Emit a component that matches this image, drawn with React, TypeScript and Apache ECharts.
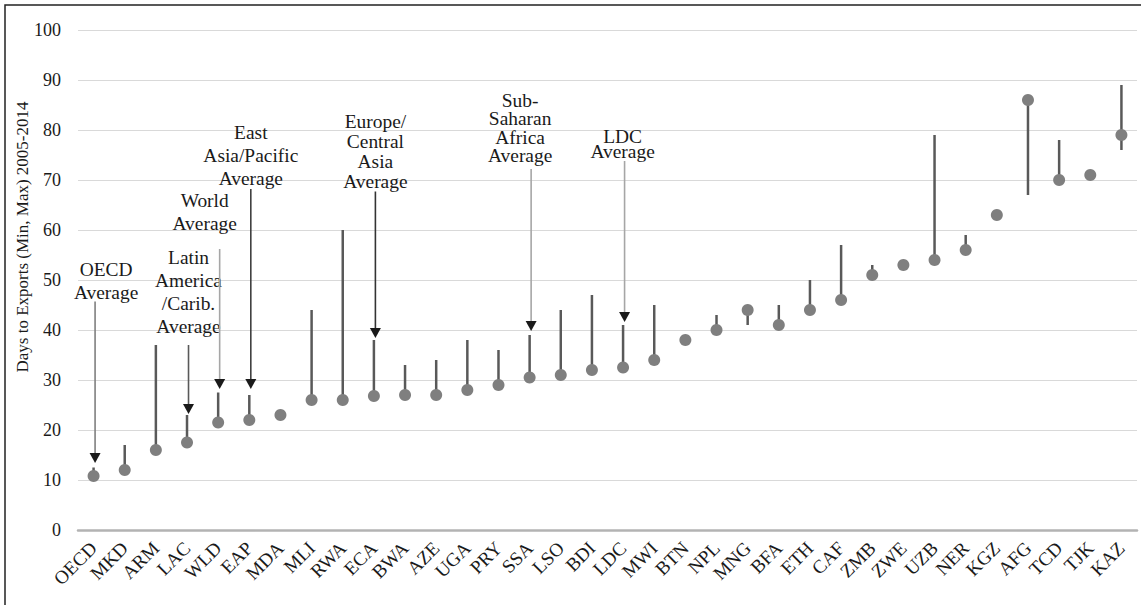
import React, { useEffect, useRef } from "react";
import * as echarts from "echarts";

const categories = [
  "OECD", "MKD", "ARM", "LAC", "WLD", "EAP", "MDA", "MLI", "RWA", "ECA", "BWA", "AZE",
  "UGA", "PRY", "SSA", "LSO", "BDI", "LDC", "MWI", "BTN", "NPL", "MNG", "BFA", "ETH",
  "CAF", "ZMB", "ZWE", "UZB", "NER", "KGZ", "AFG", "TCD", "TJK", "KAZ",
];
const avgValues = [
  10.8, 12, 16, 17.5, 21.5, 22, 23, 26, 26, 26.8, 27, 27,
  28, 29, 30.5, 31, 32, 32.5, 34, 38, 40, 44, 41, 44,
  46, 51, 53, 54, 56, 63, 86, 70, 71, 79,
];
const minValues = [
  10.8, 12, 16, 17.5, 21.5, 22, 23, 26, 26, 26.8, 27, 27,
  28, 29, 30.5, 31, 32, 32.5, 34, 38, 40, 41, 41, 44,
  46, 51, 53, 54, 56, 63, 67, 70, 71, 76,
];
const maxValues = [
  12.5, 17, 37, 23, 27.5, 27, 23, 44, 60, 38, 33, 34,
  38, 36, 39, 44, 47, 41, 45, 38, 43, 44, 45, 50,
  57, 53, 53, 79, 59, 63, 86, 78, 71, 89,
];
const yTicks = [0, 10, 20, 30, 40, 50, 60, 70, 80, 90, 100];

const annotationCategories = ["OECD", "LAC", "WLD", "EAP", "ECA", "SSA", "LDC"];
const annotationTop = [45.7, 37, 56.2, 68.2, 67.7, 72.2, 73.8];
const annotationTip = [13.4, 23.2, 28.2, 28.2, 38.4, 39.8, 41.6];
const annotationLabels = [
  "OECD\nAverage",
  "Latin\nAmerica\n/Carib.\nAverage",
  "World\nAverage",
  "East\nAsia/Pacific\nAverage",
  "Europe/\nCentral\nAsia\nAverage",
  "Sub-\nSaharan\nAfrica\nAverage",
  "LDC\nAverage",
];

const yAxisTitle = "Days to Exports (Min, Max) 2005-2014";

// layout / style lookups for annotations
const annLayout: Record<string, { dx: number; dy: number; lh: number; color: string }> = {
  OECD: { dx: 11, dy: 6, lh: 23, color: "#7f7f7f" },
  LAC: { dx: 0, dy: -4, lh: 23, color: "#595959" },
  WLD: { dx: -15, dy: -11, lh: 23, color: "#a6a6a6" },
  EAP: { dx: 0, dy: 4, lh: 23, color: "#404040" },
  ECA: { dx: 0, dy: 3, lh: 20, color: "#333333" },
  SSA: { dx: -11, dy: -1, lh: 18.5, color: "#a6a6a6" },
  LDC: { dx: -2, dy: 2, lh: 15.5, color: "#a6a6a6" },
};

const FONT = "Liberation Serif";
const FS = 18;

export default function App() {
  const ref = useRef<HTMLDivElement>(null);
  useEffect(() => {
    if (!ref.current) return;
    const chart = echarts.init(ref.current, null, { renderer: "svg" });
    const rangeData = categories.map((c, i) => [i, minValues[i], maxValues[i]]);
    const annData = annotationCategories.map((c, k) => [
      categories.indexOf(c),
      annotationTop[k],
      annotationTip[k],
    ]);
    chart.setOption({
      animation: false,
      backgroundColor: "#ffffff",
      textStyle: { fontFamily: FONT },
      grid: { left: 78, right: 4, top: 30, bottom: 75, containLabel: false },
      graphic: [
        {
          type: "rect",
          shape: { x: 5, y: 5, width: 1300, height: 800 },
          style: { fill: "none", stroke: "#222222", lineWidth: 1.5 },
          silent: true,
        },
        {
          type: "text",
          x: 22,
          y: 237,
          rotation: Math.PI / 2,
          style: {
            text: yAxisTitle,
            align: "center",
            verticalAlign: "middle",
            fontFamily: FONT,
            fontSize: 17,
            fill: "#1a1a1a",
          },
        },
      ],
      xAxis: {
        type: "category",
        data: categories,
        boundaryGap: true,
        axisLine: { show: true, lineStyle: { color: "#b3b3b3", width: 2.5 } },
        axisTick: { show: false },
        axisLabel: {
          interval: 0,
          rotate: 45,
          margin: 15,
          fontSize: 19,
          fontFamily: FONT,
          color: "#1a1a1a",
        },
        splitLine: { show: false },
      },
      yAxis: {
        type: "value",
        min: yTicks[0],
        max: yTicks[yTicks.length - 1],
        interval: 10,
        axisLine: { show: false },
        axisTick: { show: false },
        axisLabel: { fontSize: FS, fontFamily: FONT, color: "#1a1a1a", margin: 17 },
        splitLine: { lineStyle: { color: "#d9d9d9", width: 1.2 } },
      },
      series: [
        {
          type: "custom",
          name: "range",
          data: rangeData,
          encode: { x: 0, y: [1, 2] },
          z: 2,
          renderItem: (params: any, api: any) => {
            const i = api.value(0);
            const lo = api.value(1);
            const hi = api.value(2);
            if (lo === hi) return null;
            const p1 = api.coord([i, lo]);
            const p2 = api.coord([i, hi]);
            return {
              type: "line",
              shape: { x1: p1[0], y1: p1[1], x2: p2[0], y2: p2[1] },
              style: { stroke: "#595959", lineWidth: 2.5 },
            };
          },
        },
        {
          type: "scatter",
          name: "average",
          data: avgValues,
          symbol: "circle",
          symbolSize: 12,
          itemStyle: { color: "#7f7f7f", opacity: 1 },
          z: 3,
        },
        {
          type: "custom",
          name: "annotations",
          data: annData,
          encode: { x: 0, y: [1, 2] },
          z: 4,
          renderItem: (params: any, api: any) => {
            const k = params.dataIndex;
            const cat = annotationCategories[k];
            const lay = annLayout[cat];
            const i = api.value(0);
            const pTop = api.coord([i, api.value(1)]);
            const pTip = api.coord([i, api.value(2)]);
            const x = pTop[0] + 1.5;
            const headH = 10;
            const headW = 11;
            return {
              type: "group",
              children: [
                {
                  type: "line",
                  shape: { x1: x, y1: pTop[1], x2: x, y2: pTip[1] - headH + 1 },
                  style: { stroke: lay.color, lineWidth: 1.6 },
                },
                {
                  type: "polygon",
                  shape: {
                    points: [
                      [x - headW / 2, pTip[1] - headH],
                      [x + headW / 2, pTip[1] - headH],
                      [x, pTip[1]],
                    ],
                  },
                  style: { fill: "#1a1a1a" },
                },
                {
                  type: "text",
                  x: x + lay.dx,
                  y: pTop[1] - 3 + lay.dy,
                  scaleX: 1.08,
                  style: {
                    text: annotationLabels[k],
                    align: "center",
                    verticalAlign: "bottom",
                    fontFamily: FONT,
                    fontSize: FS,
                    lineHeight: lay.lh,
                    fill: "#1a1a1a",
                  },
                },
              ],
            };
          },
        },
      ],
    });
    return () => chart.dispose();
  }, []);
  return (
    <div
      ref={ref}
      style={{ position: "absolute", left: 0, top: 0, width: 1141, height: 605 }}
    />
  );
}
